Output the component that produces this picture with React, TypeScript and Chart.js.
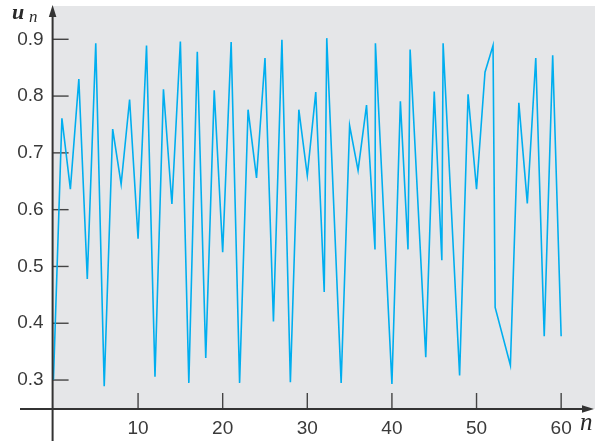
import React, { useEffect, useRef } from 'react';
import { Chart, registerables } from 'chart.js';

Chart.register(...registerables);

// horizontal positions of the vertices, in units of n (a few are drawn off the integer grid in the figure)
const nValues: number[] = [
  0, 1, 2, 3, 4, 5, 6, 7, 8, 9, 10, 11, 12, 13, 14, 15, 16, 17, 18, 19, 20,
  21, 22, 23, 24, 25, 26, 27, 28, 29, 30, 31, 32, 32.3, 34, 35, 36, 37, 38, 38.05, 40,
  41, 41.9, 42.15, 44, 45, 45.9, 46.05, 48, 49, 50, 51, 51.95, 52.2, 54, 55, 56, 57, 58, 59, 60,
];

const uValues: number[] = [
  0.300, 0.761, 0.636, 0.830, 0.478, 0.893, 0.289, 0.742, 0.645, 0.794, 0.549,
  0.889, 0.306, 0.812, 0.610, 0.896, 0.295, 0.878, 0.339, 0.810, 0.525,
  0.895, 0.295, 0.776, 0.656, 0.867, 0.403, 0.899, 0.296, 0.776, 0.660,
  0.807, 0.455, 0.902, 0.295, 0.748, 0.669, 0.784, 0.530, 0.893, 0.293,
  0.791, 0.530, 0.882, 0.340, 0.808, 0.511, 0.893, 0.308, 0.803, 0.636,
  0.842, 0.889, 0.428, 0.326, 0.788, 0.611, 0.867, 0.377, 0.872, 0.377,
];

const xTicks: number[] = [10, 20, 30, 40, 50, 60];
const yTicks: number[] = [0.3, 0.4, 0.5, 0.6, 0.7, 0.8, 0.9];

const X_MIN = -0.1;
const X_MAX = 64;
const Y_MIN = 0.249;
const Y_MAX = 0.9586;

const AXIS_COLOR = '#333333';
const TICK_COLOR = '#444444';
const LABEL_COLOR = '#3a3a3a';
const LINE_COLOR = '#00aeef';
const PLOT_BG = '#e5e6e8';

const decorPlugin = {
  id: 'decor',
  beforeDraw(chart: any) {
    const { ctx, chartArea } = chart;
    const { left, right, top, bottom } = chartArea;
    ctx.save();
    ctx.fillStyle = PLOT_BG;
    ctx.fillRect(left, top, right - left, bottom - top);
    ctx.restore();
  },
  beforeDatasetsDraw(chart: any) {
    const { ctx, chartArea, scales } = chart;
    const { left, bottom } = chartArea;
    const xs = scales.x;
    const ys = scales.y;
    ctx.save();
    ctx.strokeStyle = TICK_COLOR;
    ctx.lineWidth = 1.4;
    yTicks.forEach((v) => {
      const py = ys.getPixelForValue(v);
      ctx.beginPath();
      ctx.moveTo(left, py);
      ctx.lineTo(left + 16, py);
      ctx.stroke();
    });
    xTicks.forEach((v) => {
      const px = xs.getPixelForValue(v);
      ctx.beginPath();
      ctx.moveTo(px, bottom);
      ctx.lineTo(px, bottom - 16);
      ctx.stroke();
    });
    ctx.restore();
  },
  afterDraw(chart: any) {
    const { ctx, chartArea, width, height } = chart;
    const { left, bottom } = chartArea;
    ctx.save();
    ctx.strokeStyle = AXIS_COLOR;
    ctx.fillStyle = AXIS_COLOR;
    ctx.lineWidth = 2;
    // y axis
    ctx.beginPath();
    ctx.moveTo(left, height);
    ctx.lineTo(left, 14);
    ctx.stroke();
    ctx.beginPath();
    ctx.moveTo(left, 5);
    ctx.lineTo(left - 3.8, 17);
    ctx.lineTo(left + 3.8, 17);
    ctx.closePath();
    ctx.fill();
    // x axis
    ctx.beginPath();
    ctx.moveTo(20, bottom);
    ctx.lineTo(width - 10, bottom);
    ctx.stroke();
    ctx.beginPath();
    ctx.moveTo(width - 1, bottom);
    ctx.lineTo(width - 13, bottom - 3.8);
    ctx.lineTo(width - 13, bottom + 3.8);
    ctx.closePath();
    ctx.fill();
    // axis names
    ctx.fillStyle = '#2a2a2a';
    ctx.textBaseline = 'alphabetic';
    ctx.textAlign = 'left';
    ctx.font = 'italic bold 22px "Liberation Serif", "DejaVu Serif", serif';
    ctx.fillText('u', 12, 19);
    ctx.font = 'italic 17px "Liberation Serif", "DejaVu Serif", serif';
    ctx.fillText('n', 29, 22);
    ctx.font = 'italic 25px "Liberation Serif", "DejaVu Serif", serif';
    ctx.fillText('n', 580, 430);
    ctx.restore();
  },
};

export default function App() {
  const canvasRef = useRef<HTMLCanvasElement | null>(null);

  useEffect(() => {
    const canvas = canvasRef.current;
    if (!canvas) return;
    const points = nValues.map((n, i) => ({ x: n, y: uValues[i] }));
    const chart = new Chart(canvas, {
      type: 'line',
      data: {
        datasets: [
          {
            data: points,
            borderColor: LINE_COLOR,
            borderWidth: 1.6,
            pointRadius: 0,
            tension: 0,
            fill: false,
          },
        ],
      },
      options: {
        animation: false,
        responsive: false,
        devicePixelRatio: 1,
        layout: { padding: { top: 6, left: 0, right: 0, bottom: 0 } },
        plugins: {
          legend: { display: false },
          tooltip: { enabled: false },
          title: { display: false },
        },
        scales: {
          x: {
            type: 'linear',
            min: X_MIN,
            max: X_MAX,
            border: { display: false },
            grid: { display: false, drawTicks: false },
            afterBuildTicks: (scale: any) => {
              scale.ticks = xTicks.map((v) => ({ value: v }));
            },
            afterFit: (scale: any) => {
              scale.height = 32;
              scale.paddingLeft = 0;
              scale.paddingRight = 0;
            },
            ticks: {
              autoSkip: false,
              maxRotation: 0,
              padding: 8,
              color: LABEL_COLOR,
              font: { family: '"Liberation Sans", Arial, sans-serif', size: 19 },
              callback: (v: any) => String(v),
            },
          },
          y: {
            type: 'linear',
            min: Y_MIN,
            max: Y_MAX,
            border: { display: false },
            grid: { display: false, drawTicks: false },
            afterBuildTicks: (scale: any) => {
              scale.ticks = yTicks.map((v) => ({ value: v }));
            },
            afterFit: (scale: any) => {
              scale.width = 52.6;
              scale.paddingTop = 0;
              scale.paddingBottom = 0;
            },
            ticks: {
              autoSkip: false,
              padding: 9,
              color: LABEL_COLOR,
              font: { family: '"Liberation Sans", Arial, sans-serif', size: 19 },
              callback: (v: any) => Number(v).toFixed(1),
            },
          },
        },
      },
      plugins: [decorPlugin],
    } as any);
    return () => {
      chart.destroy();
    };
  }, []);

  return (
    <div style={{ position: 'absolute', left: 0, top: 0, width: 595, height: 441, background: '#ffffff' }}>
      <canvas ref={canvasRef} width={595} height={441} style={{ display: 'block' }} />
    </div>
  );
}
